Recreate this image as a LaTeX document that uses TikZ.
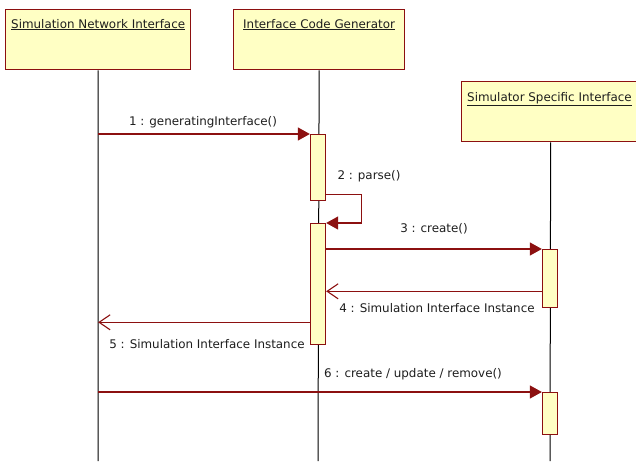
\documentclass[tikz,border=0pt]{standalone}
\usepackage{fontspec}
\setmainfont{DejaVu Sans}
\usetikzlibrary{arrows.meta}
\definecolor{umlred}{RGB}{140,16,16}
\definecolor{umlfill}{RGB}{255,255,196}
\definecolor{umltext}{RGB}{30,30,30}

\tikzset{
  head/.style={draw=umlred, fill=umlfill, line width=1.3pt, rectangle,
    anchor=north west, minimum height=60pt, inner sep=0pt},
  headtext/.style={anchor=base west, inner sep=0pt, text=umltext,
    font=\fontsize{11.9}{14}\selectfont},
  lifeline/.style={draw=black, line width=1pt},
  act/.style={draw=umlred, fill=umlfill, line width=1.3pt, rectangle,
    anchor=north, minimum width=15pt, inner sep=0pt},
  msg/.style={draw=umlred, line width=1.1pt,
    -{Triangle[length=12pt, width=13pt]}},
  ret/.style={draw=umlred, line width=1.1pt,
    -{Straight Barb[length=11pt, width=15pt, line width=1.1pt]}},
  lbl/.style={anchor=base, inner sep=0pt, text=umltext,
    font=\fontsize{11.9}{14}\selectfont},
}

\begin{document}
\begin{tikzpicture}[x=1pt, y=-1pt]
\useasboundingbox (0,0) rectangle (636,461);
\fill[white] (0,0) rectangle (636,461);

% participants
\node[head, minimum width=185pt] (h1) at (5,9) {};
\node[head, minimum width=171pt] (h2) at (233,9) {};
\node[head, minimum width=178pt] (h3) at (461,81) {};
\node[headtext] (t1) at ([xshift=6pt, yshift=-19pt]h1.north west)
  {\underline{Simulation Network Interface}};
\node[headtext] (t2) at ([xshift=10pt, yshift=-19pt]h2.north west)
  {\underline{Interface Code Generator}};
\node[headtext] (t3) at ([xshift=6pt, yshift=-20pt]h3.north west)
  {\underline{Simulator Specific Interface}};

% lifelines
\coordinate (b1) at (98,461);
\coordinate (b2) at (318,461);
\coordinate (b3) at (550,461);
\draw[lifeline] (h1.south) -- (b1);
\draw[lifeline] (h2.south) -- (b2);
\draw[lifeline] (h3.south) -- (b3);

% activation bars
\node[act, minimum height=66pt] (a1) at (318,134) {};
\node[act, minimum height=121pt] (a2) at (318,223) {};
\node[act, minimum height=58pt] (a3) at (550,249) {};
\node[act, minimum height=42pt] (a4) at (550,392) {};

% 1 : generatingInterface()
\draw[msg] (h1.south |- a1.north west) -- (a1.north west);
\node[lbl] (l1) at (203,125) {1 : generatingInterface()};

% 2 : parse()  (self call)
\coordinate (s2) at ([yshift=7pt]a1.south east);
\draw[msg] (s2) -- ++(35,0) |- (a2.north east);
\node[lbl] (l2) at (369,179) {2 : parse()};

% 3 : create()
\draw[msg] (a2.east |- a3.north west) -- (a3.north west);
\node[lbl] (l3) at (434,232) {3 : create()};

% 4 : return
\coordinate (r4) at ([yshift=17pt]a3.south west);
\draw[ret] (r4) -- (a2.east |- r4);
\node[lbl] (l4) at (437,312) {4 : Simulation Interface Instance};

% 5 : return
\coordinate (r5) at ([yshift=23pt]a2.south west);
\draw[ret] (r5) -- (h1.south |- r5);
\node[lbl] (l5) at (207,348) {5 : Simulation Interface Instance};

% 6 : create / update / remove()
\draw[msg] (h1.south |- a4.north west) -- (a4.north west);
\node[lbl] (l6) at (413,377) {6 : create / update / remove()};
\end{tikzpicture}
\end{document}
